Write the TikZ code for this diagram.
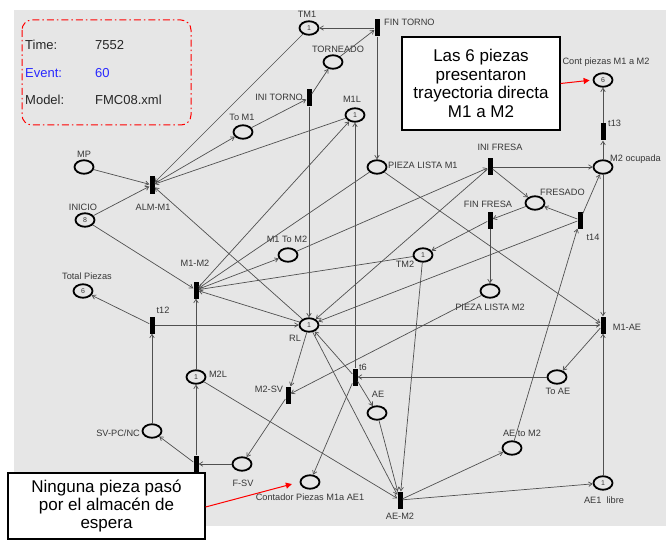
\documentclass[tikz,border=0pt]{standalone}
\usepackage{fontspec}
\setmainfont{Liberation Sans}
\usetikzlibrary{arrows.meta,shapes.geometric}
\definecolor{bg}{RGB}{230,230,230}
\definecolor{arcc}{RGB}{80,80,80}
\definecolor{lblc}{RGB}{55,55,55}
\definecolor{evblue}{RGB}{40,40,255}
\begin{document}
\begin{tikzpicture}[x=1pt,y=-1pt,
  pnplace/.style={ellipse, draw=black, line width=1.8pt, minimum width=19pt, minimum height=13.5pt, inner sep=0pt, font=\fontsize{7}{7}\selectfont, text=lblc},
  pntrans/.style={rectangle, fill=black, minimum width=5pt, minimum height=17pt, inner sep=0pt},
  pnarc/.style={draw=arcc, line width=0.7pt, -{Straight Barb[length=3.5pt,width=4.5pt]}},
  pnlab/.style={font=\fontsize{9.2}{10}\selectfont, text=lblc, inner sep=0pt},
  legtxt/.style={font=\fontsize{13}{14}\selectfont, text=black!85, anchor=west, inner sep=0pt},
  callout/.style={draw=black, line width=1.2pt, fill=white, align=center, font=\fontsize{17}{18.4}\selectfont, inner sep=0pt}
]
\useasboundingbox (0,0) rectangle (666,540);
\fill[bg] (14,10) rectangle (666,526);

% legend
\draw[red, line width=1pt, dash pattern=on 7pt off 3pt on 1.5pt off 3pt, rounded corners=10pt] (22,20) rectangle (191,125);
\node[legtxt] (lgA) at (25,45) {Time:};
\node[legtxt] (lgB) at (95,45) {7552};
\node[legtxt, text=evblue] (lgC) at (25,73) {Event:};
\node[legtxt, text=evblue] (lgD) at (95,73) {60};
\node[legtxt] (lgE) at (25,100) {Model:};
\node[legtxt] (lgF) at (95,100) {FMC08.xml};

% places
\node[pnplace] (TM1) at (309,28) {1};
\node[pnplace] (TORN) at (333,62) {};
\node[pnplace] (M1L) at (355,115) {1};
\node[pnplace] (ToM1) at (243,132) {};
\node[pnplace] (MP) at (84,167) {};
\node[pnplace] (INICIO) at (85,220) {8};
\node[pnplace] (PLM1) at (377,167) {};
\node[pnplace] (M1ToM2) at (288,255) {};
\node[pnplace] (TM2) at (423,255) {1};
\node[pnplace] (TotP) at (83,291) {6};
\node[pnplace] (RL) at (309,325) {1};
\node[pnplace] (M2L) at (196,377) {1};
\node[pnplace] (AE) at (377,413) {};
\node[pnplace] (SVPC) at (152,431) {};
\node[pnplace] (FSV) at (242,464) {};
\node[pnplace] (CPAE) at (310,482) {};
\node[pnplace] (AEtoM2) at (512,448) {};
\node[pnplace] (AE1L) at (603,483) {1};
\node[pnplace] (ToAE) at (557,377) {};
\node[pnplace] (PLM2) at (490,291) {};
\node[pnplace] (FRES) at (535,203) {};
\node[pnplace] (M2oc) at (603,167) {};
\node[pnplace] (CPM) at (603,80) {6};

% transitions
\node[pntrans] (FINT) at (377,28) {};
\node[pntrans] (INIT) at (309,98) {};
\node[pntrans] (ALM) at (152,185) {};
\node[pntrans] (INIF) at (490,167) {};
\node[pntrans] (FINF) at (490,220) {};
\node[pntrans] (T14) at (580,220) {};
\node[pntrans] (T13) at (603,132) {};
\node[pntrans] (M1M2) at (196,290) {};
\node[pntrans] (T12) at (152,325) {};
\node[pntrans] (M1AE) at (603,325) {};
\node[pntrans] (T6) at (355,377) {};
\node[pntrans] (M2SV) at (288,395) {};
\node[pntrans] (TU) at (196,464) {};
\node[pntrans] (AEM2) at (400,500) {};

% labels
\node[pnlab] (lTM1) at (307,14) {TM1};
\node[pnlab] (lTORN) at (338,49) {TORNEADO};
\node[pnlab] (lM1L) at (352,99) {M1L};
\node[pnlab, anchor=east] (lINIT) at (303,97) {INI TORNO};
\node[pnlab] (lToM1) at (242,117) {To M1};
\node[pnlab, anchor=west] (lFINT) at (384,22) {FIN TORNO};
\node[pnlab] (lCPM) at (606,62) {Cont piezas M1 a M2};
\node[pnlab] (lMP) at (84,154) {MP};
\node[pnlab] (lINICIO) at (83,207) {INICIO};
\node[pnlab] (lALM) at (153,207) {ALM-M1};
\node[pnlab, anchor=west] (lPLM1) at (388,165) {PIEZA LISTA M1};
\node[pnlab] (lM1ToM2) at (287,239) {M1 To M2};
\node[pnlab] (lTM2) at (405,264) {TM2};
\node[pnlab] (lINIF) at (500,147) {INI FRESA};
\node[pnlab, anchor=west] (lM2oc) at (610,159) {M2 ocupada};
\node[pnlab, anchor=west] (lFRES) at (540,192) {FRESADO};
\node[pnlab] (lFINF) at (488,204) {FIN FRESA};
\node[pnlab] (lT14) at (593,237) {t14};
\node[pnlab, anchor=west] (lT13) at (608,123) {t13};
\node[pnlab] (lTotP) at (87,276) {Total Piezas};
\node[pnlab] (lM1M2) at (195,263) {M1-M2};
\node[pnlab] (lT12) at (163,310) {t12};
\node[pnlab] (lM2L) at (218,374) {M2L};
\node[pnlab] (lRL) at (295,338) {RL};
\node[pnlab] (lT6) at (363,367) {t6};
\node[pnlab] (lM2SV) at (269,389) {M2-SV};
\node[pnlab] (lAE) at (378,394) {AE};
\node[pnlab] (lPLM2) at (490,307) {PIEZA LISTA M2};
\node[pnlab] (lM1AE) at (627,327) {M1-AE};
\node[pnlab] (lToAE) at (558,391) {To AE};
\node[pnlab, anchor=east] (lSVPC) at (140,433) {SV-PC/NC};
\node[pnlab] (lFSV) at (243,483) {F-SV};
\node[pnlab] (lCPAE) at (310,497) {Contador Piezas M1a AE1};
\node[pnlab] (lAEM2) at (400,516) {AE-M2};
\node[pnlab] (lAEtoM2) at (522,433) {AE to M2};
\node[pnlab] (lAE1L) at (604,500) {AE1\ \ libre};

% arcs
\draw[pnarc] (FINT) -- (TM1);
\draw[pnarc] (TORN) -- (FINT);
\draw[pnarc] (INIT) -- (TORN);
\draw[pnarc] (ToM1) -- (INIT);
\draw[pnarc] (TM1) -- (ALM);
\draw[pnarc] (ALM) -- (ToM1);
\draw[pnarc] (M1L) -- (ALM);
\draw[pnarc] (MP) -- (ALM);
\draw[pnarc] (INICIO) -- (ALM);
\draw[pnarc] (INICIO) -- (M1M2);
\draw[pnarc] (RL) -- (ALM);
\draw[pnarc] (FINT) -- (PLM1);
\draw[pnarc] (INIT) -- (RL);
\draw[pnarc] (T6) -- (M1L);
\draw[pnarc] (M1M2) -- (M1L);
\draw[pnarc] (PLM1) -- (M1M2);
\draw[pnarc] (PLM1) -- (M1AE);
\draw[pnarc] (M1M2) -- (M1ToM2);
\draw[pnarc] (M1ToM2) -- (INIF);
\draw[pnarc] (INIF) -- (RL);
\draw[pnarc] (INIF) -- (M2oc);
\draw[pnarc] (INIF) -- (FRES);
\draw[pnarc] (FRES) -- (FINF);
\draw[pnarc] (FINF) -- (PLM2);
\draw[pnarc] (FINF) -- (TM2);
\draw[pnarc] (TM2) -- (AEM2);
\draw[pnarc] (TM2) -- (M1M2);
\draw[pnarc] (T14) -- (FRES);
\draw[pnarc] (T14) -- (M2oc);
\draw[pnarc] (M2oc) -- (T13);
\draw[pnarc] (T13) -- (CPM);
\draw[pnarc] (M2oc) -- (M1AE);
\draw[pnarc] (AE1L) -- (M1AE);
\draw[pnarc] (M1AE) -- (ToAE);
\draw[pnarc] (ToAE) -- (T6);
\draw[pnarc] (T6) -- (AE);
\draw[pnarc] (T6) -- (RL);
\draw[pnarc] (T6) -- (CPAE);
\draw[pnarc] (RL) -- (AEM2);
\draw[pnarc] (AE) -- (AEM2);
\draw[pnarc] (M2L) -- (AEM2);
\draw[pnarc] (AEM2) -- (AEtoM2);
\draw[pnarc] (AEM2) -- (AE1L);
\draw[pnarc] (AEtoM2) -- (T14);
\draw[pnarc] (T14) -- (RL);
\draw[pnarc] (RL) -- (M2SV);
\draw[pnarc] (PLM2) -- (M2SV);
\draw[pnarc] (M2SV) -- (FSV);
\draw[pnarc] (FSV) -- (TU);
\draw[pnarc] (TU) -- (SVPC);
\draw[pnarc] (TU) -- (M2L);
\draw[pnarc] (M2L) -- (M1M2);
\draw[pnarc] (SVPC) -- (T12);
\draw[pnarc] (T12) -- (TotP);
\draw[pnarc] (T12) -- (RL);
\draw[pnarc] (RL) -- (M1AE);
\draw[pnarc] (RL) -- (M1M2);

% callouts
\node[callout, minimum width=158pt, minimum height=93pt] (box1) at (481,83.5) {Las 6 piezas\\presentaron\\trayectoria directa\\M1 a M2};
\node[callout, minimum width=197pt, minimum height=66pt] (box2) at (106.5,506) {Ninguna pieza pasó\\por el almacén de\\espera};
\draw[red, line width=1pt, -{Triangle[length=6pt,width=6pt]}, shorten >=3pt] (box1.east) -- (CPM.west);
\draw[red, line width=1pt, -{Triangle[length=6pt,width=6pt]}, shorten >=8pt] ([yshift=-1pt]box2.east) -- (CPAE.west);
\end{tikzpicture}
\end{document}
